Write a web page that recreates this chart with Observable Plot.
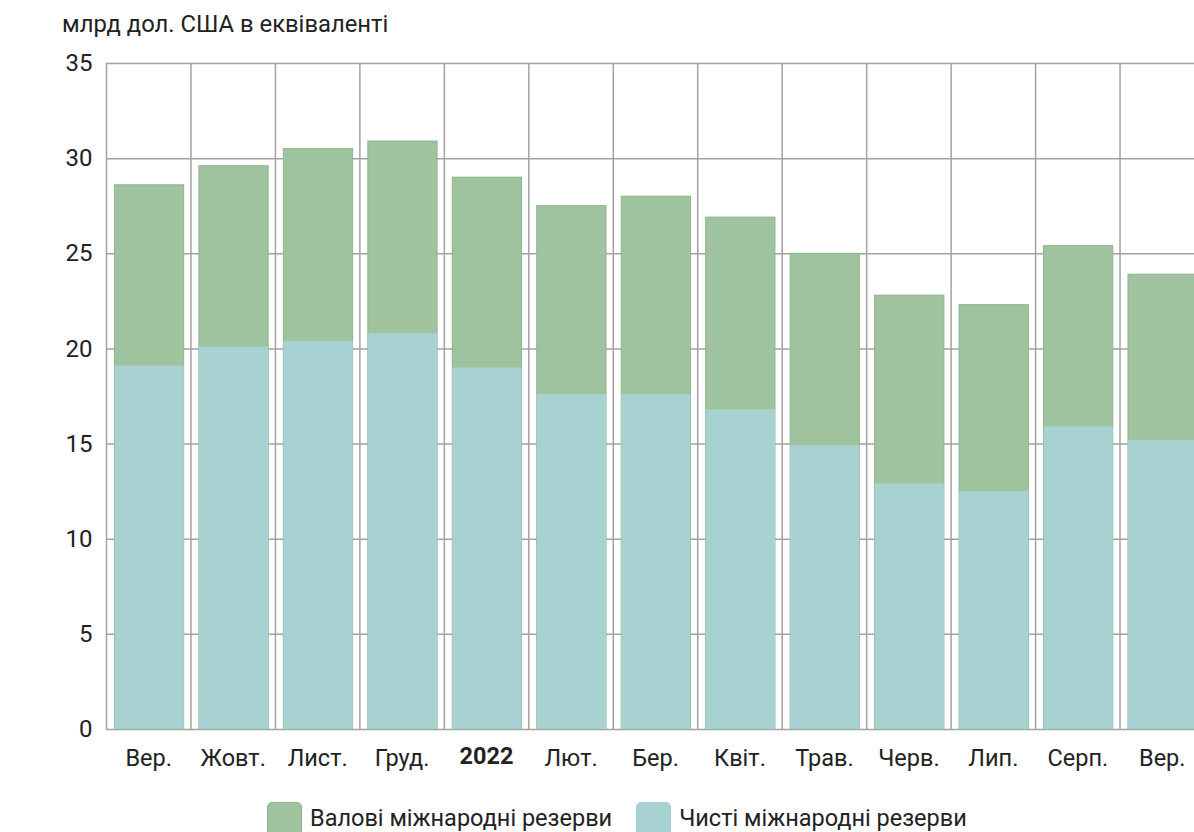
<!DOCTYPE html>
<html>
<head>
<meta charset="utf-8">
<script src="https://cdn.jsdelivr.net/npm/d3@7"></script>
<script src="https://cdn.jsdelivr.net/npm/@observablehq/plot@0.6"></script>
<style>
  html, body { margin: 0; padding: 0; background: #fff; overflow: hidden; width: 1194px; height: 832px; }
  body { font-family: Roboto, "Noto Sans", sans-serif; color: #222; position: relative; }
  #title { position: absolute; left: 62px; top: 10px; font-size: 23.8px; white-space: nowrap; }
  #chart { position: absolute; left: 0; top: 45px; width: 1194px; height: 744px; overflow: hidden; }
  #chart svg { max-width: none !important; width: 1206px !important; height: 744px !important; }
  #legend { position: absolute; left: 267px; top: 802px; display: flex; align-items: flex-start; font-size: 23.5px; white-space: nowrap; line-height: 32px; }
  .item { display: flex; align-items: flex-start; margin-right: 24px; }
  .sw { width: 35px; height: 34px; border-radius: 5px; margin-right: 8px; box-sizing: border-box; }
</style>
</head>
<body>
<div id="title">млрд дол. США в еквіваленті</div>
<div id="chart"></div>
<div id="legend"></div>
<script>
const months = ["Вер.", "Жовт.", "Лист.", "Груд.", "2022", "Лют.", "Бер.", "Квіт.", "Трав.", "Черв.", "Лип.", "Серп.", "Вер."];
const gross = [28.6, 29.6, 30.5, 30.9, 29.0, 27.5, 28.0, 26.9, 25.0, 22.8, 22.3, 25.4, 23.9];
const net = [19.1, 20.1, 20.4, 20.8, 19.0, 17.6, 17.6, 16.8, 14.9, 12.9, 12.5, 15.9, 15.2];
const yTicks = [0, 5, 10, 15, 20, 25, 30, 35];
const seriesNames = ["Валові міжнародні резерви", "Чисті міжнародні резерви"];
const seriesColors = ["#9fc29f", "#a8d2d1"];
const seriesStrokes = ["#8fb48f", "#a8d2d1"];

const data = months.map((m, i) => ({i, month: m, gross: gross[i], net: net[i]}));
const bounds = d3.range(months.length + 1);

const plot = Plot.plot({
  width: 1206,
  height: 744,
  marginLeft: 106,
  marginRight: 2,
  marginTop: 18,
  marginBottom: 60,
  style: {fontFamily: "Roboto, 'Noto Sans', sans-serif", fontSize: "24px", color: "#222", background: "transparent", maxWidth: "none"},
  x: {domain: [0, months.length], axis: null},
  y: {domain: [0, 35], ticks: yTicks},
  marks: [
    Plot.ruleY(yTicks, {stroke: "#a2a2a2", strokeWidth: 1.5, strokeOpacity: 1}),
    Plot.ruleX(bounds, {y1: 0, y2: 35, stroke: "#a2a2a2", strokeWidth: 1.5, strokeOpacity: 1}),
    Plot.rectY(data, {x1: d => d.i + 0.1, x2: d => d.i + 0.92, y1: 0, y2: "gross", fill: seriesColors[0], stroke: seriesStrokes[0], strokeWidth: 1}),
    Plot.rectY(data, {x1: d => d.i + 0.1, x2: d => d.i + 0.92, y1: 0, y2: "net", fill: seriesColors[1]}),
    Plot.axisY({ticks: yTicks, tickSize: 0, tickPadding: 14, label: null, fontSize: 24}),
    Plot.text(data.filter(d => d.month !== "2022"), {x: d => d.i + 0.5, y: 0, text: "month", dy: 29, fontSize: 23.5, fill: "#222"}),
    Plot.text(data.filter(d => d.month === "2022"), {x: d => d.i + 0.5, y: 0, text: "month", dy: 27, fontSize: 23.5, fontWeight: "bold", fill: "#222"})
  ]
});
document.getElementById("chart").appendChild(plot);

const legend = document.getElementById("legend");
seriesNames.forEach((name, k) => {
  const item = document.createElement("div");
  item.className = "item";
  const sw = document.createElement("div");
  sw.className = "sw";
  sw.style.background = seriesColors[k];
  sw.style.border = "1px solid " + seriesStrokes[k];
  const label = document.createElement("span");
  label.textContent = name;
  item.appendChild(sw);
  item.appendChild(label);
  legend.appendChild(item);
});
</script>
</body>
</html>
